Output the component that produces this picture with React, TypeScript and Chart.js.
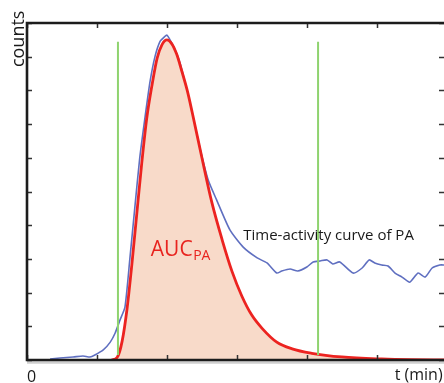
import React, { useEffect, useRef } from "react";
import { Chart, registerables } from "chart.js";

Chart.register(...registerables);

// x in tick units (one tick = 10), y in tick units (one tick = 10)
const xTicks = [0, 10, 20, 30, 40, 50];
const yTicks = [0, 10, 20, 30, 40, 50, 60, 70, 80, 90, 100];

// Gamma-variate fit (AUC_PA)
const fitX = [12.1, 12.9, 13.6, 14.3, 15.0, 15.7, 16.4, 17.1, 17.9, 18.6, 19.3, 20.0, 20.7, 21.4, 22.1, 22.9, 23.6, 25.0, 26.4, 27.9, 29.3, 30.7, 32.1, 33.6, 35.7, 37.9, 40.7, 45.0, 50.7, 55.0, 59.6];
const fitY = [0, 0.8, 5.6, 15.2, 28.6, 43.6, 58.4, 71.5, 82.0, 89.6, 93.6, 95.0, 93.8, 90.7, 85.9, 80.0, 73.6, 60.0, 46.9, 35.6, 26.3, 19.0, 13.4, 9.4, 5.3, 3.3, 2.0, 0.9, 0.3, 0.1, 0.05];

// Measured time-activity curve of PA
const tacX = [3.3, 4.7, 6.6, 8.0, 9.0, 9.7, 10.9, 11.9, 12.6, 13.3, 14.0, 14.7, 15.4, 16.1, 16.9, 17.6, 18.3, 19.0, 19.6, 20.0, 20.6, 21.3, 21.9, 23.3, 24.7, 25.9, 27.1, 29.0, 30.9, 32.9, 34.3, 35.7, 36.4, 37.6, 38.7, 40.0, 40.9, 41.9, 42.9, 43.7, 44.7, 46.6, 47.9, 48.9, 49.7, 50.7, 51.6, 52.6, 53.6, 54.7, 55.9, 56.9, 57.9, 59.0, 59.7];
const tacY = [0.3, 0.6, 0.9, 1.2, 0.9, 1.5, 3.0, 5.3, 8.0, 11.9, 15.7, 30.0, 45.0, 59.7, 72.5, 82.8, 90.1, 94.5, 95.8, 96.4, 94.4, 91.4, 87.9, 76.0, 63.0, 53.4, 47.5, 38.6, 33.5, 30.3, 28.8, 25.8, 26.4, 27.0, 26.4, 27.6, 29.1, 29.4, 29.7, 28.5, 29.1, 25.8, 27.3, 29.7, 28.8, 28.2, 27.9, 25.8, 24.6, 23.1, 25.8, 24.6, 27.3, 28.2, 28.2];

// Integration window markers
const markerLeftX = [13.0, 13.0];
const markerRightX = [41.6, 41.6];
const markerY = [1.5, 94.4];

const pts = (xs: number[], ys: number[]) => xs.map((x, i) => ({ x, y: ys[i] }));

const frameAndText = {
  id: "frameAndText",
  afterDatasetsDraw(chart: any) {
    const { ctx, chartArea } = chart;
    const { left, top, bottom, right } = chartArea;
    const xs = chart.scales.x;
    const ys = chart.scales.y;
    ctx.save();
    // shadow under bottom axis
    ctx.strokeStyle = "#cfcfcf";
    ctx.lineWidth = 2.5;
    ctx.beginPath();
    ctx.moveTo(left, bottom + 2.5);
    ctx.lineTo(right, bottom + 2.5);
    ctx.stroke();
    // ticks
    ctx.strokeStyle = "#333";
    ctx.lineWidth = 1.5;
    ctx.beginPath();
    yTicks.forEach((v) => {
      const y = Math.round(ys.getPixelForValue(v)) + 0.5;
      ctx.moveTo(left, y);
      ctx.lineTo(left + 5, y);
      ctx.moveTo(right - 5, y);
      ctx.lineTo(right, y);
    });
    xTicks.forEach((v) => {
      const x = Math.round(xs.getPixelForValue(v)) + 0.5;
      ctx.moveTo(x, top);
      ctx.lineTo(x, top + 5);
      ctx.moveTo(x, bottom);
      ctx.lineTo(x, bottom - 5);
    });
    ctx.stroke();
    // frame
    ctx.strokeStyle = "#1c1c1c";
    ctx.lineWidth = 2.6;
    ctx.beginPath();
    ctx.moveTo(right, top);
    ctx.lineTo(left, top);
    ctx.lineTo(left, bottom);
    ctx.lineTo(right, bottom);
    ctx.stroke();
    ctx.restore();
  },
  afterDraw(chart: any) {
    const { ctx } = chart;
    const xs = chart.scales.x;
    const ys = chart.scales.y;
    const px = (v: number) => xs.getPixelForValue(v);
    const py = (v: number) => ys.getPixelForValue(v);
    ctx.save();
    ctx.fillStyle = "#1a1a1a";
    ctx.textBaseline = "alphabetic";
    // counts (rotated)
    ctx.save();
    ctx.translate(px(-0.45), py(95.3));
    ctx.rotate(-Math.PI / 2);
    ctx.font = '18px "Open Sans"';
    ctx.textAlign = "center";
    ctx.fillText("counts", 0, 0);
    ctx.restore();
    // axis labels
    ctx.font = '16px "Open Sans"';
    ctx.textAlign = "center";
    ctx.fillText("0", px(0.65), py(-6.4));
    ctx.textAlign = "right";
    ctx.fillText("t (min)", px(59.4), py(-6.0));
    // curve label
    ctx.font = '15px "Open Sans"';
    ctx.textAlign = "left";
    ctx.fillText("Time-activity curve of PA", px(30.9), py(35.6));
    // AUC_PA
    ctx.fillStyle = "#e8231e";
    ctx.font = '21px "Open Sans"';
    const ax = px(17.7);
    const ay = py(30.9);
    ctx.fillText("AUC", ax, ay);
    const w = ctx.measureText("AUC").width;
    ctx.font = '14px "Open Sans"';
    ctx.fillText("PA", ax + w + 0.5, ay + 4);
    ctx.restore();
  },
};

export default function App() {
  const ref = useRef<HTMLCanvasElement>(null);
  useEffect(() => {
    if (!ref.current) return;
    const chart = new Chart(ref.current, {
      type: "line",
      data: {
        datasets: [
          {
            data: pts(markerLeftX, markerY),
            borderColor: "#8fd36f",
            borderWidth: 2,
            pointRadius: 0,
            fill: false,
            order: 0,
          },
          {
            data: pts(markerRightX, markerY),
            borderColor: "#8fd36f",
            borderWidth: 2,
            pointRadius: 0,
            fill: false,
            order: 0,
          },
          {
            data: pts(fitX, fitY),
            borderColor: "#ec2320",
            backgroundColor: "#f8dac9",
            borderWidth: 2.8,
            pointRadius: 0,
            fill: "origin",
            cubicInterpolationMode: "monotone",
            order: 1,
          },
          {
            data: pts(tacX, tacY),
            borderColor: "#5f6fc0",
            borderWidth: 1.6,
            pointRadius: 0,
            fill: false,
            tension: 0.2,
            order: 2,
          },
        ],
      },
      options: {
        responsive: false,
        animation: false,
        devicePixelRatio: 1,
        layout: { padding: { left: 27, top: 23, right: 0, bottom: 23 } },
        plugins: { legend: { display: false }, tooltip: { enabled: false } },
        scales: {
          x: { type: "linear", min: 0, max: 59.6, display: false },
          y: { type: "linear", min: 0, max: 100, display: false },
        },
      },
      plugins: [frameAndText],
    });
    return () => chart.destroy();
  }, []);
  return (
    <div style={{ position: "fixed", left: 0, top: 0, width: 444, height: 383, background: "#fff" }}>
      <canvas ref={ref} width={444} height={383} />
    </div>
  );
}
